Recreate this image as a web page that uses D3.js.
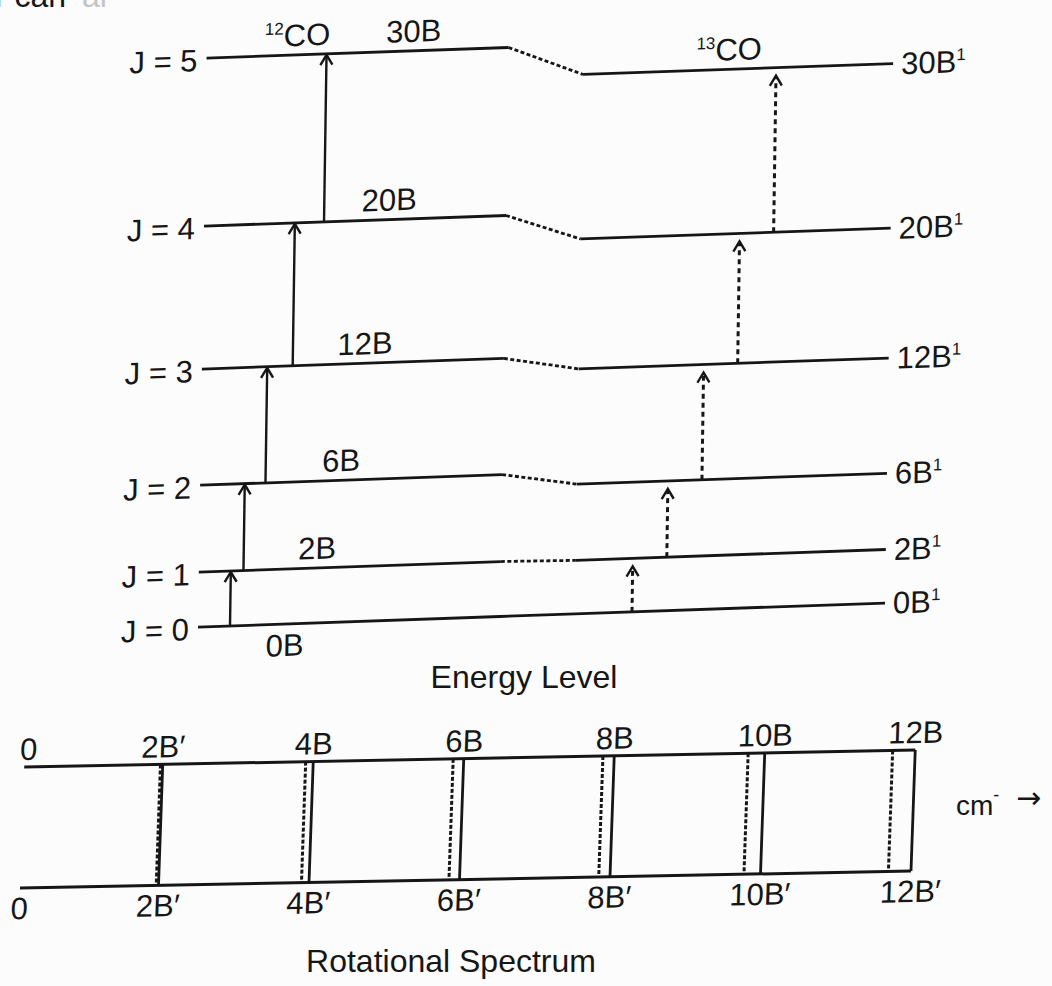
<!DOCTYPE html>
<meta charset="utf-8">
<style>
  body { margin: 0; background: #fcfcfc; }
  svg { display: block; font-family: "Liberation Sans", Arial, sans-serif; }
  text { fill: #161616; }
</style>
<body></body>
<script src="https://cdn.jsdelivr.net/npm/d3@7"></script>
<script>
  const width = 1052
  const height = 986
  const ink = "#161616"

  // energy levels, in units of B
  const levelsJ = [0, 1, 2, 3, 4, 5]
  const energy12 = [0, 2, 6, 12, 20, 30]              // 12CO
  const energy13 = [0, 1.94, 5.41, 11.3, 18.5, 28.2]  // 13CO
  const levelLabels = ["0B", "2B", "6B", "12B", "20B", "30B"]

  // rotational spectrum, line positions in units of B
  const spectrum12 = [2, 4, 6, 8, 10, 12]
  const spectrum13 = [1.97, 3.9, 5.86, 7.85, 9.78, 11.7]
  const tickValues = [0, 2, 4, 6, 8, 10, 12]
  const topTicks = ["0", "2B′", "4B", "6B", "8B", "10B", "12B"]
  const bottomTicks = ["0", "2B′", "4B′", "6B′", "8B′", "10B′", "12B′"]

  const svg = d3.select("body").append("svg")
    .attr("width", width)
    .attr("height", height)

  // bit of the page text above, cut off by the scan
  svg.append("text").attr("x", -5).attr("y", 7).attr("font-size", 32).text("r can")
  svg.append("text").attr("x", 82).attr("y", 7).attr("font-size", 32)
    .style("fill", "#c4c4c4").text("ar")

  // ---------- energy level diagram ----------
  // the scan is slightly skewed, so the whole panel is sheared a little
  const energy = svg.append("g")
    .attr("transform", "translate(200,627) matrix(1,-0.035,-0.015,1,0,0) translate(-200,-627)")

  const yE = d3.scalePow().exponent(0.863).domain([0, 30]).range([627, 58])
  const xArrow12 = d3.scalePow().exponent(1.4).domain([0, 4]).range([230, 318])
  const xArrow13 = d3.scaleLinear().domain([0, 4]).range([632, 768])
  const xLabel12 = d3.scaleSqrt().domain([0, 30]).range([285, 405])

  const seg = { leftStart: 198, leftEnd: 500, rightStart: 575, rightEnd: 885 }

  function line(g, x1, y1, x2, y2, w, dash) {
    const l = g.append("line")
      .attr("x1", x1).attr("y1", y1).attr("x2", x2).attr("y2", y2)
      .attr("stroke", ink)
      .attr("stroke-width", w)
    if (dash) l.attr("stroke-dasharray", dash)
    return l
  }

  function chevron(g, x, y) {
    g.append("path")
      .attr("d", `M${x - 6},${y + 10}L${x},${y}L${x + 6},${y + 10}`)
      .attr("fill", "none")
      .attr("stroke", ink)
      .attr("stroke-width", 2.4)
  }

  levelsJ.forEach((j, i) => {
    const y12 = yE(energy12[i])
    const y13 = yE(energy13[i])
    line(energy, seg.leftStart, y12, seg.leftEnd, y12, 2.8)
    line(energy, seg.leftEnd, y12, seg.rightStart, y13, 2.8, j === 0 ? null : "4,2.5")
    line(energy, seg.rightStart, y13, seg.rightEnd, y13, 2.8)

    energy.append("text")
      .attr("x", seg.leftStart - 9)
      .attr("y", y12 + 2)
      .attr("dy", "0.35em")
      .attr("text-anchor", "end")
      .attr("font-size", 31)
      .text(`J = ${j}`)

    energy.append("text")
      .attr("x", xLabel12(energy12[i]))
      .attr("y", j === 0 ? y12 + 32 : y12 - 9)
      .attr("text-anchor", "middle")
      .attr("font-size", 31)
      .text(levelLabels[i])

    const right = energy.append("text")
      .attr("x", seg.rightEnd + 8)
      .attr("y", y13)
      .attr("dy", "0.35em")
      .attr("font-size", 31)
      .text(levelLabels[i])
    right.append("tspan").attr("font-size", 17).attr("dy", -12).text("1")
  })

  // transitions J -> J+1
  levelsJ.slice(0, -1).forEach((j, i) => {
    const x12 = xArrow12(j)
    const top12 = yE(energy12[i + 1]) + 1
    line(energy, x12, yE(energy12[i]), x12, top12, 2.4)
    chevron(energy, x12, top12)

    const x13 = xArrow13(j)
    const top13 = yE(energy13[i + 1]) + 8
    line(energy, x13, yE(energy13[i]), x13, top13 + 2, 3, "5,4")
    chevron(energy, x13, top13)
  })

  const co12 = energy.append("text")
    .attr("x", 256).attr("y", yE(30) - 9)
    .attr("font-size", 31)
  co12.append("tspan").attr("font-size", 17).attr("dy", -12).text("12")
  co12.append("tspan").attr("dy", 12).text("CO")

  const co13 = energy.append("text")
    .attr("x", 688).attr("y", yE(energy13[5]) - 9)
    .attr("font-size", 31)
  co13.append("tspan").attr("font-size", 17).attr("dy", -12).text("13")
  co13.append("tspan").attr("dy", 12).text("CO")

  svg.append("text")
    .attr("x", 524).attr("y", 688)
    .attr("text-anchor", "middle")
    .attr("font-size", 32)
    .text("Energy Level")

  // ---------- rotational spectrum ----------
  const spec = svg.append("g")
    .attr("transform", "translate(20,888) matrix(1,-0.019,-0.035,1,0,0) translate(-20,-888)")

  const xS = d3.scaleLinear().domain([0, 12]).range([8, 911])
  const topY = 767
  const botY = 888
  const lineStart = 20

  line(spec, lineStart, topY, xS(12), topY, 3)
  line(spec, lineStart, botY, xS(12), botY, 3)

  spectrum13.forEach(v => line(spec, xS(v), topY, xS(v), botY, 3, "4,2"))
  spectrum12.forEach(v => line(spec, xS(v), topY, xS(v), botY, 2.8))

  tickValues.forEach((v, i) => {
    spec.append("text")
      .attr("x", v === 0 ? lineStart + 4 : xS(v))
      .attr("y", topY - 7)
      .attr("text-anchor", "middle")
      .attr("font-size", 31)
      .text(topTicks[i])
    spec.append("text")
      .attr("x", v === 0 ? lineStart : xS(v))
      .attr("y", botY + 31)
      .attr("text-anchor", "middle")
      .attr("font-size", 31)
      .text(bottomTicks[i])
  })

  const unit = svg.append("text")
    .attr("x", 956).attr("y", 815)
    .attr("font-size", 28)
    .text("cm")
  unit.append("tspan").attr("font-size", 18).attr("dy", -14).text("-")
  svg.append("text")
    .attr("x", 1016).attr("y", 808)
    .attr("font-family", "DejaVu Sans")
    .attr("font-size", 30)
    .text("→")

  svg.append("text")
    .attr("x", 451).attr("y", 972)
    .attr("text-anchor", "middle")
    .attr("font-size", 32)
    .text("Rotational Spectrum")
</script>
